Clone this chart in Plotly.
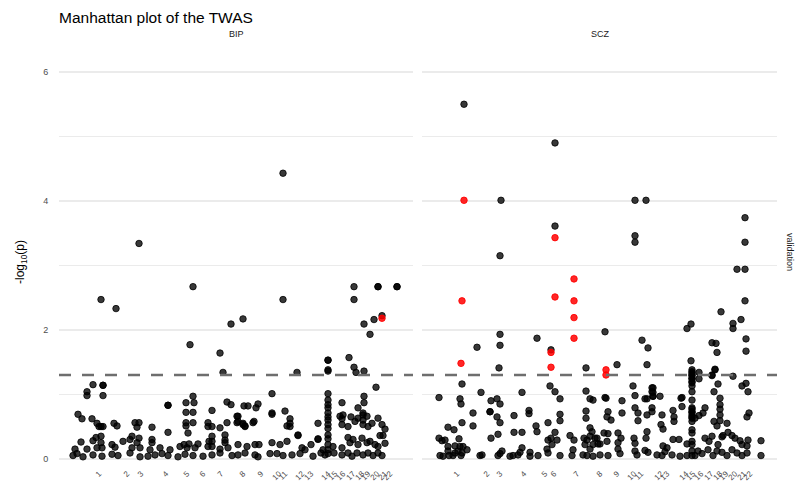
import plotly.graph_objects as go

# chromosome labels and where their ticks sit on each panel's cumulative position axis
chrom_labels = [str(c) for c in range(1, 23)]
bip_tick_pos = [40, 68, 82, 107, 128, 144, 162, 184, 202, 220, 226, 243, 252, 269, 276, 284, 294, 303, 309, 318, 326, 331]
scz_tick_pos = [35, 65, 78, 102, 123, 132, 155, 178, 195, 212, 219, 239, 245, 264, 271, 279, 289, 298, 304, 313, 322, 328]

# BIP: genes not in validation set (black)
bip_pos = [
    224, 80, 134, 42, 57, 224, 295, 319, 319, 338, 338, 295,
    172, 184, 305, 315, 323, 311, 131, 161, 164, 238, 269, 269,
    269, 269, 290, 295, 297, 305, 317, 305, 34, 44, 44, 28,
    28, 44, 134, 127, 135, 109, 109, 127, 134, 168, 172, 153,
    19, 23, 33, 38, 40, 44, 42, 55, 58, 76, 80, 78,
    93, 109, 127, 127, 134, 129, 149, 149, 153, 161, 168, 178,
    178, 166, 166, 153, 153, 153, 37, 73,
    22, 34, 42, 42, 53, 64, 71, 80, 78, 93, 93, 125, 130, 139, 150, 166,
    16, 28, 38, 43, 56, 73, 81, 91, 101, 111, 121, 128, 136, 149, 161, 169,
    14, 18, 24, 34, 43, 53, 59, 71, 81, 89, 96, 103, 109, 119, 126, 134, 144, 153, 161, 173,
    213, 269, 269, 269, 269, 269, 269, 269, 269, 269, 269, 269,
    305, 283, 299, 304, 185, 189, 199, 197, 213, 226, 179, 179,
    186, 184, 195, 231, 231, 228, 231, 259, 281, 283, 284, 283,
    289, 292, 296, 299, 304, 304, 308, 304, 309, 313, 319, 323,
    326, 324, 321, 269, 269, 269, 184, 186, 194, 259, 239, 213,
    179, 188, 196, 200, 213, 221, 228, 239, 243, 252, 259, 264, 274, 283, 289, 291, 294, 299, 303, 308, 311, 316, 319, 326,
    179, 186, 196, 199, 211, 218, 224, 233, 241, 246, 254, 262, 266, 275, 283, 289, 293, 298, 304, 309, 314, 319, 323,
]
bip_logp = [
    4.43, 3.34, 2.67, 2.47, 2.33, 2.47, 2.67, 2.67, 2.67, 2.67, 2.67, 2.47,
    2.09, 2.17, 2.09, 2.16, 2.22, 1.93, 1.77, 1.64, 1.34, 1.34, 1.53, 1.53,
    1.38, 1.36, 1.57, 1.42, 1.34, 1.36, 1.11, 0.97, 1.15, 1.14, 1.14, 1.04,
    0.98, 0.98, 0.97, 0.87, 0.87, 0.83, 0.83, 0.72, 0.72, 0.88, 0.84, 0.75,
    0.69, 0.62, 0.62, 0.55, 0.50, 0.50, 0.50, 0.55, 0.51, 0.56, 0.56, 0.49,
    0.49, 0.41, 0.56, 0.51, 0.56, 0.40, 0.56, 0.50, 0.50, 0.48, 0.56, 0.56,
    0.66, 0.37, 0.29, 0.35, 0.27, 0.19, 0.33, 0.35,
    0.26, 0.28, 0.35, 0.25, 0.22, 0.27, 0.30, 0.32, 0.25, 0.30, 0.25, 0.22, 0.23, 0.23, 0.27, 0.25,
    0.15, 0.15, 0.17, 0.17, 0.18, 0.17, 0.17, 0.14, 0.17, 0.14, 0.19, 0.17, 0.17, 0.19, 0.15, 0.17,
    0.05, 0.08, 0.03, 0.06, 0.04, 0.07, 0.05, 0.09, 0.03, 0.04, 0.06, 0.08, 0.05, 0.03, 0.07, 0.05, 0.04, 0.06, 0.09, 0.05,
    1.01, 1.01, 0.91, 0.84, 0.79, 0.71, 0.65, 0.60, 0.53, 0.47, 0.37, 0.31,
    0.87, 0.87, 0.79, 0.71, 0.82, 0.82, 0.85, 0.79, 0.71, 0.74, 0.66, 0.58,
    0.50, 0.53, 0.58, 0.62, 0.55, 0.51, 0.50, 0.55, 0.66, 0.62, 0.68, 0.53,
    0.50, 0.65, 0.58, 0.63, 0.68, 0.60, 0.66, 0.53, 0.50, 0.55, 0.63, 0.53,
    0.46, 0.36, 0.36, 0.22, 0.14, 0.08, 0.55, 0.51, 0.56, 0.30, 0.37, 0.69,
    0.22, 0.19, 0.22, 0.22, 0.25, 0.22, 0.27, 0.36, 0.17, 0.22, 0.31, 0.14, 0.19, 0.17, 0.33, 0.25, 0.30, 0.22, 0.32, 0.25, 0.27, 0.22, 0.19, 0.24,
    0.06, 0.09, 0.06, 0.03, 0.08, 0.08, 0.05, 0.06, 0.08, 0.14, 0.04, 0.09, 0.06, 0.09, 0.06, 0.09, 0.04, 0.09, 0.06, 0.09, 0.05, 0.09, 0.05,
]

# BIP: validated genes (red)
bip_val_pos = [323]
bip_val_logp = [2.18]

# SCZ: genes not in validation set (black)
scz_pos = [
    42, 133, 79, 213, 224, 323, 133, 213, 213, 323, 78, 315,
    323, 323, 299, 311, 319, 311, 269, 265, 183, 78, 55, 78,
    77, 115, 129, 164, 195, 220, 226, 225, 269, 277, 277, 290,
    294, 295, 290, 293, 311, 324, 324, 320, 324, 326, 17, 40,
    59, 100, 128, 133, 138, 164, 168, 171, 183, 200, 211, 213,
    223, 230, 230, 231, 260, 290, 293, 296, 292, 231, 231, 231,
    270, 270, 270, 270, 270, 270, 270, 270, 270, 270, 270, 270, 270,
    270, 270, 270, 270, 270, 270, 270, 270, 270, 270, 270, 270, 270,
    225, 238, 184, 259, 298, 298, 298, 298, 283, 281, 277, 273,
    260, 251, 252, 252, 240, 239, 241, 213, 216, 216, 225, 230,
    186, 185, 189, 200, 292, 298, 305, 295, 327, 325, 306, 310,
    301, 313, 318, 320, 325, 326, 339, 339, 182, 186, 178, 185,
    196, 199, 196, 212, 213, 225, 224, 241, 243, 251, 257, 265,
    283, 287, 290, 296, 300, 230,
    178, 186, 196, 198, 213, 215, 223, 226, 235, 240, 245, 250, 258,
    265, 273, 276, 280, 286, 291, 295, 300, 305, 310, 315, 320, 325,
    38, 39, 69, 75, 78, 51, 68, 68, 75, 78, 40, 51,
    26, 32, 92, 107, 107, 114, 115, 126, 138, 138, 133, 164,
    164, 168, 170, 168, 165, 162, 173, 163, 171, 168, 69, 76,
    92, 100, 148, 152, 129, 126, 135, 130, 17, 20, 23, 37,
    26, 33, 38, 41, 45, 176, 175,
    18, 21, 27, 31, 39, 26, 33, 36, 40, 58, 60, 78, 80, 76, 88,
    91, 96, 100, 98, 108, 108, 116, 125, 126, 138, 150, 151, 161, 165, 171,
]
scz_logp = [
    5.50, 4.90, 4.01, 4.01, 4.01, 3.74, 3.61, 3.46, 3.36, 3.36, 3.15, 2.94,
    2.94, 2.45, 2.28, 2.10, 2.16, 2.02, 2.09, 2.02, 1.97, 1.93, 1.73, 1.76,
    1.41, 1.87, 1.69, 1.41, 1.46, 1.84, 1.72, 1.46, 1.52, 1.34, 1.24, 1.80,
    1.79, 1.65, 1.29, 1.38, 1.28, 1.86, 1.67, 1.13, 1.17, 1.04, 0.95, 1.16,
    1.03, 1.03, 1.13, 1.04, 0.93, 1.05, 0.93, 0.91, 0.95, 0.90, 1.13, 0.98,
    0.93, 1.10, 1.04, 0.97, 0.95, 1.30, 1.39, 1.16, 1.04, 1.10, 1.03, 0.97,
    1.38, 1.35, 1.33, 1.30, 1.29, 1.25, 1.24, 1.20, 1.18, 1.13, 1.04, 0.91, 0.79,
    0.77, 0.73, 0.72, 0.68, 0.65, 0.63, 0.58, 0.45, 0.40, 0.27, 0.22, 0.12, 0.05,
    0.93, 0.97, 0.94, 0.94, 0.94, 0.84, 0.77, 0.68, 0.79, 0.71, 0.67, 0.63,
    0.81, 0.75, 0.65, 0.58, 0.68, 0.53, 0.46, 0.79, 0.71, 0.59, 0.68, 0.73,
    0.73, 0.65, 0.60, 0.71, 0.58, 0.59, 0.55, 0.51, 0.71, 0.65, 0.41, 0.36,
    0.36, 0.32, 0.28, 0.22, 0.20, 0.29, 0.28, 0.05, 0.40, 0.39, 0.23, 0.27,
    0.40, 0.32, 0.25, 0.32, 0.24, 0.42, 0.32, 0.20, 0.11, 0.30, 0.30, 0.23,
    0.32, 0.27, 0.35, 0.22, 0.34, 0.79,
    0.06, 0.05, 0.15, 0.08, 0.12, 0.06, 0.13, 0.10, 0.06, 0.05, 0.17, 0.06, 0.04,
    0.05, 0.05, 0.12, 0.08, 0.14, 0.05, 0.12, 0.10, 0.05, 0.14, 0.09, 0.05, 0.09,
    0.93, 0.85, 0.90, 0.93, 0.85, 0.71, 0.73, 0.73, 0.65, 0.56, 0.56, 0.51,
    0.49, 0.45, 0.67, 0.75, 0.70, 0.51, 0.42, 0.56, 0.69, 0.59, 0.41, 0.74,
    0.63, 0.48, 0.42, 0.35, 0.29, 0.32, 0.32, 0.22, 0.22, 0.15, 0.32, 0.38,
    0.41, 0.41, 0.36, 0.29, 0.32, 0.29, 0.29, 0.22, 0.32, 0.28, 0.29, 0.31,
    0.19, 0.20, 0.19, 0.19, 0.14, 0.23, 0.32,
    0.05, 0.04, 0.05, 0.05, 0.05, 0.12, 0.09, 0.12, 0.09, 0.05, 0.06, 0.08, 0.12, 0.05, 0.04,
    0.05, 0.06, 0.17, 0.10, 0.10, 0.04, 0.05, 0.15, 0.09, 0.05, 0.05, 0.14, 0.06, 0.05, 0.04,
]

# SCZ: validated genes (red)
scz_val_pos = [42, 133, 152, 40, 133, 152, 152, 39, 129, 129, 152, 184, 184]
scz_val_logp = [4.01, 3.43, 2.79, 2.45, 2.51, 2.45, 2.19, 1.48, 1.65, 1.42, 1.87, 1.38, 1.30]

FONT = "Liberation Sans, Arial, sans-serif"
# the page body adds an 8px margin, so the figure is a bit smaller and shifted
OFF = 8
W, H = 803 - OFF, 483 - OFF


def px_x(p):
    return (p - OFF) / W


def px_y(p):
    return 1 - (p - OFF) / H


fig = go.Figure()


def _add_points(x, y, color, xa, ya):
    fig.add_trace(go.Scatter(
        x=x, y=y, mode="markers", xaxis=xa, yaxis=ya, showlegend=False,
        marker=dict(size=6.5, color=color, line=dict(width=1, color=color)),
    ))


_add_points(bip_pos, bip_logp, "rgba(0,0,0,0.78)", "x", "y")
_add_points(bip_val_pos, bip_val_logp, "rgba(255,0,0,0.85)", "x", "y")
_add_points(scz_pos, scz_logp, "rgba(0,0,0,0.78)", "x2", "y2")
_add_points(scz_val_pos, scz_val_logp, "rgba(255,0,0,0.85)", "x2", "y2")

y_dom = [px_y(462), px_y(43)]
xcommon = dict(
    showgrid=False, zeroline=False, showline=False,
    ticks="outside", ticklen=3, tickcolor="rgba(0,0,0,0)",
    tickangle=-45, ticktext=chrom_labels, tickmode="array",
    tickfont=dict(size=8, color="#4d4d4d", family=FONT),
)
ycommon = dict(
    range=[-0.05, 6.45], tick0=0, dtick=2, zeroline=False, showline=False,
    gridcolor="#ebebeb", gridwidth=1.5,
    minor=dict(dtick=1, tick0=0, showgrid=True, gridcolor="#ebebeb", gridwidth=1),
    domain=y_dom,
)

fig.update_layout(
    width=W, height=H, template="none",
    paper_bgcolor="white", plot_bgcolor="white",
    margin=dict(l=0, r=0, t=0, b=0),
    font=dict(family=FONT),
    xaxis=dict(domain=[px_x(59), px_x(413)], range=[0, 354], tickvals=bip_tick_pos, **xcommon),
    xaxis2=dict(domain=[px_x(422), px_x(777)], range=[0, 355], tickvals=scz_tick_pos, **xcommon),
    yaxis=dict(ticks="outside", ticklen=8, tickcolor="rgba(0,0,0,0)",
               tickfont=dict(size=9, color="#4d4d4d", family=FONT), **ycommon),
    yaxis2=dict(anchor="x2", showticklabels=False, ticks="", **ycommon),
)

# significance threshold p = 0.05
for xr in ["x domain", "x2 domain"]:
    fig.add_shape(type="line", xref=xr, yref="y", x0=0, x1=1, y0=1.301, y1=1.301,
                  line=dict(color="#6e6e6e", width=2.5, dash="12px,11px"))

fig.add_annotation(text="Manhattan plot of the TWAS", xref="paper", yref="paper",
                   x=px_x(58), y=1, xanchor="left", yanchor="top", showarrow=False,
                   borderpad=0, font=dict(size=15.5, color="black", family=FONT))
for label, cx in [("BIP", 236), ("SCZ", 600)]:
    fig.add_annotation(text=label, xref="paper", yref="paper", x=px_x(cx), y=px_y(34),
                       xanchor="center", yanchor="middle", showarrow=False, borderpad=0,
                       font=dict(size=9, color="#1a1a1a", family=FONT))
fig.add_annotation(text="validation", xref="paper", yref="paper", x=px_x(790), y=px_y(252),
                   textangle=90, xanchor="center", yanchor="middle", showarrow=False,
                   font=dict(size=9, color="#1a1a1a", family=FONT))
fig.add_annotation(text="-log<sub>10</sub>(p)", xref="paper", yref="paper", x=px_x(21), y=px_y(262),
                   textangle=-90, xanchor="center", yanchor="middle", showarrow=False,
                   font=dict(size=12, color="black", family=FONT))

fig.write_html("out.html")
